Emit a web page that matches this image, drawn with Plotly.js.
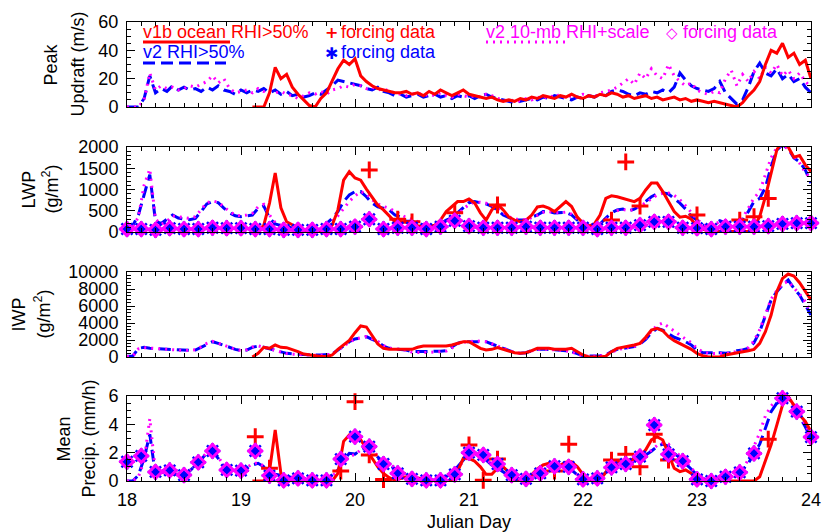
<!DOCTYPE html>
<html><head><meta charset="utf-8">
<script src="https://cdn.plot.ly/plotly-3.0.1.min.js"></script>
<style>html,body{margin:0;padding:0;background:#fff}#chart{width:824px;height:532px}</style>
</head><body><div id="chart"></div>
<script>
// ---------- time grids (Julian Day) ----------
const days = [
18.00,18.05,18.10,18.15,18.20,18.25,18.30,18.35,18.40,18.45,18.50,18.55,18.60,18.65,18.70,18.75,18.80,18.85,18.90,18.95,
19.00,19.05,19.10,19.15,19.20,19.25,19.30,19.35,19.40,19.45,19.50,19.55,19.60,19.65,19.70,19.75,19.80,19.85,19.90,19.95,
20.00,20.05,20.10,20.15,20.20,20.25,20.30,20.35,20.40,20.45,20.50,20.55,20.60,20.65,20.70,20.75,20.80,20.85,20.90,20.95,
21.00,21.05,21.10,21.15,21.20,21.25,21.30,21.35,21.40,21.45,21.50,21.55,21.60,21.65,21.70,21.75,21.80,21.85,21.90,21.95,
22.00,22.05,22.10,22.15,22.20,22.25,22.30,22.35,22.40,22.45,22.50,22.55,22.60,22.65,22.70,22.75,22.80,22.85,22.90,22.95,
23.00,23.05,23.10,23.15,23.20,23.25,23.30,23.35,23.40,23.45,23.50,23.55,23.60,23.65,23.70,23.75,23.80,23.85,23.90,23.95,
24.00];
const forcDays = [
18.000,18.125,18.250,18.375,18.500,18.625,18.750,18.875,
19.000,19.125,19.250,19.375,19.500,19.625,19.750,19.875,
20.000,20.125,20.250,20.375,20.500,20.625,20.750,20.875,
21.000,21.125,21.250,21.375,21.500,21.625,21.750,21.875,
22.000,22.125,22.250,22.375,22.500,22.625,22.750,22.875,
23.000,23.125,23.250,23.375,23.500,23.625,23.750,23.875,
24.000];
const N = null;

// ---------- Peak updraft (m/s) ----------
const updraftV1b = [
N,N,N,N,N,N,N,N,N,N,N,N,N,N,N,N,N,N,N,N,
N,N,0,0,0,10,28,20,23,14,9,5,1,0,6,10,18,27,33,30,
34,22,18,15,13,12,11,10,10,11,9,10,8,11,9,12,10,8,10,12,
9,8,7,6,7,5,4,5,4,6,5,7,6,8,7,6,8,7,9,7,
6,8,7,9,8,10,9,7,8,6,7,8,6,7,5,6,7,5,6,4,
5,4,3,4,3,2,1,0,3,8,12,18,30,40,38,45,35,38,30,33,
20];
const updraftV2 = [
0,0,0,6,22,10,13,11,15,12,14,12,13,11,14,12,15,12,11,9,
12,10,12,11,13,10,12,9,11,8,9,7,8,10,9,12,15,19,18,17,
16,15,13,12,14,11,10,8,9,7,8,9,7,8,9,7,8,6,8,7,
8,6,8,9,7,6,5,4,3,4,5,6,5,7,6,8,7,6,5,7,
6,8,7,9,8,11,12,11,9,8,10,9,11,10,12,10,14,24,19,15,
13,12,11,13,18,10,6,2,5,14,25,31,24,22,27,20,23,18,20,14,
10];
const updraftV2s = [
0,0,0,5,24,12,15,13,14,12,13,15,14,16,18,22,17,20,13,10,
11,12,10,13,11,12,10,11,9,8,6,8,10,9,11,9,12,13,15,14,
16,15,13,14,12,13,11,10,9,8,9,10,8,9,8,10,8,7,9,8,
7,8,7,9,8,6,5,4,5,4,6,5,7,6,8,7,9,6,8,7,
9,8,7,10,11,12,14,17,20,16,24,20,27,22,20,30,22,18,15,17,
12,10,9,11,10,20,26,15,23,18,25,20,28,24,30,22,26,20,24,18,
14];

// ---------- LWP (g/m2) ----------
const lwpV1b = [
N,N,N,N,N,N,N,N,N,N,N,N,N,N,N,N,N,N,N,N,
N,N,0,20,160,680,1390,570,240,160,100,40,20,10,10,30,160,520,1220,1420,
1270,1220,1010,830,630,520,370,240,240,230,200,150,120,130,160,280,480,600,715,715,
775,680,450,280,520,660,520,350,280,240,280,400,590,610,560,480,590,715,600,350,
210,140,190,400,790,850,830,790,750,715,790,990,1150,1150,950,715,480,350,370,300,
125,70,20,10,10,10,10,10,10,20,125,360,830,1390,1930,2150,2000,1760,1800,1580,
1420];
const lwpV2 = [
100,150,400,900,1350,250,200,300,400,330,300,290,320,480,660,715,690,560,450,380,
360,380,400,560,610,330,190,150,125,100,60,40,30,40,80,190,320,480,715,870,
950,950,830,680,590,560,520,400,350,250,250,200,160,150,140,200,280,330,450,590,
690,715,690,660,600,520,400,330,280,280,280,350,400,480,480,450,450,460,400,280,
190,140,125,190,330,450,520,540,495,540,610,715,830,895,925,895,790,680,540,370,
280,160,110,200,265,210,125,160,280,480,715,790,1050,1540,1930,2050,1970,1740,1650,1460,
1150];
const lwpV2s = [
50,120,350,1100,1480,300,180,250,380,360,330,320,360,520,690,730,700,590,480,400,
380,400,440,590,650,400,220,160,120,90,60,40,30,40,70,150,250,380,560,720,
850,950,900,760,660,600,560,480,420,340,300,240,190,160,150,190,260,300,400,540,
650,700,700,680,630,560,450,360,300,290,290,340,390,460,480,460,450,470,420,310,
210,150,130,170,300,420,500,530,500,530,600,690,800,870,910,920,860,760,620,450,
300,180,120,180,240,200,130,180,330,560,800,950,1350,1750,1980,2050,1950,1780,1620,1400,
1250];
const lwpForcV1b = [
N,N,N,N,N,N,N,N,
N,N,N,N,N,N,N,N,
N,1460,N,300,240,N,N,450,
N,N,635,N,N,N,N,N,
N,N,280,1650,610,N,N,N,
400,N,N,280,360,790,N,N,
N];
const lwpForcV2 = [
70,70,50,90,70,70,100,90,
90,70,70,50,50,50,70,70,
125,300,70,100,100,70,125,265,
140,100,100,100,125,100,100,100,
100,70,100,100,160,240,240,100,
90,70,125,125,125,140,190,210,
210];

// ---------- IWP (g/m2) ----------
const iwpV1b = [
N,N,N,N,N,N,N,N,N,N,N,N,N,N,N,N,N,N,N,N,
N,N,0,430,1140,1020,1410,1140,1100,900,630,350,235,100,50,50,235,900,1410,1960,
2860,3650,3530,2510,1530,1020,900,900,900,820,900,1140,1290,1290,1290,1290,1290,1410,1610,1800,
1800,1410,1020,820,900,1100,900,630,510,430,510,745,1020,1020,1020,900,900,900,1020,630,
235,0,0,0,100,630,1020,1140,1220,1410,1610,2320,3170,3370,3080,2390,1920,1610,1290,900,
430,150,0,0,0,235,350,510,630,745,900,1610,2980,4940,7680,9250,9760,9530,8740,7680,
6700];
const iwpV2 = [
100,100,1020,1140,1020,980,940,880,820,780,745,780,820,1150,1530,1800,1610,1350,1140,900,
745,820,1140,1290,1140,980,820,600,430,370,315,270,235,235,235,260,350,820,1290,1800,
2120,2270,2390,2080,1800,1290,1020,950,900,820,630,630,630,630,630,680,745,1140,1610,1800,
1800,1880,1800,1800,1530,1290,1020,745,510,430,510,745,900,940,900,820,820,745,630,350,
150,100,100,150,235,630,900,1020,1140,1220,1530,2080,2860,3370,3170,2710,2320,2080,1800,1410,
820,510,510,550,510,430,510,745,820,1020,1680,2980,4740,6700,7680,8470,9060,8080,7290,6120,
4940];
const iwpV2s = [
50,80,950,1100,1050,1000,950,900,850,800,760,800,860,1200,1600,1850,1650,1400,1150,900,
760,850,1180,1320,1150,950,780,560,400,330,280,230,200,200,210,240,330,780,1250,1750,
2100,2250,2400,2150,1850,1350,1050,960,900,800,560,520,520,550,560,620,700,1050,1550,1750,
1800,1900,1850,1800,1560,1300,1050,760,520,420,500,720,880,930,900,830,800,720,600,330,
130,80,80,130,220,580,860,1000,1150,1250,1600,2200,3050,3700,4000,3500,3000,2500,2100,1700,
1000,600,450,400,420,380,450,680,800,1100,1900,3200,5000,6800,7800,8600,8900,8200,7400,6500,
5300];

// ---------- Mean precipitation (mm/h) ----------
const precV1b = [
N,N,N,N,N,N,N,N,N,N,N,N,N,N,N,N,N,N,N,N,
N,N,0,0,0,0.7,3.6,0.54,0.05,0,0,0,0,0,0,0,0,0.54,2.8,3.25,
3.0,2.9,2.3,1.6,1.0,0.54,0.24,0.05,0.19,0.3,0.24,0.2,0.19,0.1,0,0,0,0.05,0.66,1.6,
1.6,1.4,1.0,0.47,0.47,0.9,1.0,0.61,0.05,0,0.05,0.42,0.85,1.13,1.25,1.13,1.13,1.32,1.36,1.0,
0.47,0.05,0,0.05,0.66,1.2,1.32,1.36,1.48,1.55,1.72,2.2,2.9,3.13,2.9,1.84,0.9,0.66,0.78,0.54,
0.15,0,0,0,0,0,0,0,0,0,0,0.3,1.48,2.55,3.95,5.36,5.95,5.36,4.66,4.2,
3.5];
const precV2 = [
0,0,0.4,1.6,3.3,0.4,0.5,0.55,0.5,0.45,0.42,0.7,1.1,1.5,1.95,2.07,1.6,1.0,0.7,0.7,
0.78,0.9,1.13,1.25,1.0,0.7,0.47,0.38,0.3,0.25,0.19,0.1,0.05,0.05,0.05,0.15,0.42,0.78,1.48,1.95,
1.9,2.2,2.35,2.07,1.72,1.32,1.13,0.9,0.61,0.38,0.24,0.18,0.12,0.08,0.05,0.15,0.3,0.54,1.0,1.48,
1.84,1.95,1.84,1.48,1.13,0.9,0.61,0.38,0.24,0.15,0.19,0.3,0.54,0.78,0.96,1.0,1.0,0.96,0.78,0.42,
0.15,0.05,0.05,0.19,0.61,0.96,1.13,1.2,1.32,1.4,1.55,1.84,2.1,2.45,2.6,2.45,1.95,1.65,1.25,0.78,
0.42,0.19,0.05,0.15,0.19,0.3,0.47,0.66,0.78,1.25,1.95,2.6,3.72,4.9,5.5,5.84,5.95,5.13,4.54,3.83,
3.0];
const precV2s = [
0,0,0.3,1.4,4.4,0.6,0.6,0.6,0.55,0.5,0.5,0.75,1.15,1.6,2.0,2.1,1.7,1.1,0.75,0.7,
0.8,0.95,1.2,1.3,1.05,0.75,0.5,0.4,0.3,0.25,0.2,0.1,0.05,0.05,0.05,0.12,0.35,0.7,1.3,1.8,
1.85,2.2,2.4,2.15,1.8,1.4,1.2,0.95,0.7,0.45,0.3,0.2,0.12,0.08,0.05,0.12,0.25,0.5,0.95,1.4,
1.8,1.95,1.9,1.55,1.2,0.95,0.65,0.4,0.25,0.15,0.18,0.28,0.5,0.75,0.95,1.0,1.05,1.0,0.8,0.45,
0.15,0.05,0.05,0.15,0.55,0.9,1.1,1.2,1.3,1.4,1.55,1.85,2.15,2.5,2.7,2.6,2.1,1.8,1.4,0.9,
0.5,0.2,0.05,0.12,0.18,0.28,0.45,0.65,0.85,1.5,2.4,3.4,4.6,5.3,5.7,5.9,5.95,5.3,4.7,4.0,
3.2];
const precForcV1b = [
N,N,N,N,N,N,N,N,
N,3.13,0.9,N,N,N,N,0.7,
5.6,1.84,0.1,N,N,N,N,N,
2.54,0.05,1.55,N,N,N,0.7,2.6,
N,N,1.48,1.88,1.0,3.3,1.48,N,
N,N,N,N,N,2.95,N,N,
N];
const precForcV2 = [
1.36,1.77,0.64,0.75,0.42,1.32,2.12,0.78,
0.73,2.12,0.38,0.05,0.19,0.05,0.05,1.55,
3.13,2.43,1.2,0.54,0.15,0.05,0.05,0.47,
2.0,1.84,1.2,0.42,0.15,0.54,1.04,1.0,
0.12,0.19,0.96,1.2,1.72,3.95,1.88,1.4,
0.12,0,0.3,0.61,1.95,N,5.84,4.9,
3.1];

// ---------- labels ----------
const seriesNames = ['v1b ocean RHI>50%', 'v2 RHI>50%', 'v2 10-mb RHI+scale'];
const forcingLabel = 'forcing data';
const xTitle = 'Julian Day';
const panelTitles = [['Peak','Updraft (m/s)'],['LWP','(g/m<sup>2</sup>)'],['IWP','(g/m<sup>2</sup>)'],['Mean','Precip. (mm/h)']];

// ---------- styling ----------
const RED = '#ff0000', BLUE = '#0000ff', MAG = '#ff00ff';
const FONT = 'Liberation Sans, Arial, Helvetica, sans-serif';
const W = 824, H = 532;
const px = x => x / W, py = y => 1 - y / H;

function ln(x, y, ax, col, dash) {
  return {x, y, xaxis: 'x' + ax, yaxis: 'y' + ax, type: 'scatter', mode: 'lines',
    line: {color: col, width: 3, dash: dash}, connectgaps: false, hoverinfo: 'skip'};
}
function mk(x, y, ax, col, sym, size, w) {
  return {x, y, xaxis: 'x' + ax, yaxis: 'y' + ax, type: 'scatter', mode: 'markers', cliponaxis: false,
    marker: {symbol: sym, size: size, color: col, line: {color: col, width: w}}, hoverinfo: 'skip'};
}
const DASH = '12px,6px', DOT = '2px,5px';

const traces = [
  ln(days, updraftV2, '', BLUE, DASH), ln(days, updraftV2s, '', MAG, DOT), ln(days, updraftV1b, '', RED, 'solid'),
  ln(days, lwpV2, '2', BLUE, DASH), ln(days, lwpV2s, '2', MAG, DOT), ln(days, lwpV1b, '2', RED, 'solid'),
  mk(forcDays, lwpForcV1b, '2', RED, 'cross-thin-open', 12, 3),
  mk(forcDays, lwpForcV2, '2', BLUE, 'asterisk-open', 13, 2.5),
  mk(forcDays, lwpForcV2, '2', MAG, 'diamond-open', 10, 3),
  ln(days, iwpV2, '3', BLUE, DASH), ln(days, iwpV2s, '3', MAG, DOT), ln(days, iwpV1b, '3', RED, 'solid'),
  ln(days, precV2, '4', BLUE, DASH), ln(days, precV2s, '4', MAG, DOT), ln(days, precV1b, '4', RED, 'solid'),
  mk(forcDays, precForcV1b, '4', RED, 'cross-thin-open', 12, 3),
  mk(forcDays, precForcV2, '4', BLUE, 'asterisk-open', 13, 2.5),
  mk(forcDays, precForcV2, '4', MAG, 'diamond-open', 10, 3)
];

const tickFont = {family: FONT, size: 18, color: '#000'};
function xax(anchor, labels) {
  return {domain: [px(127), px(811)], anchor: anchor, range: [18, 24], dtick: 1, tick0: 18,
    ticks: 'inside', ticklen: 8, tickwidth: 1, tickcolor: '#000',
    minor: {ticks: 'inside', ticklen: 4, dtick: 0.125, tick0: 18, tickcolor: '#000', showgrid: false},
    showline: true, linecolor: '#000', linewidth: 1, mirror: 'ticks',
    showgrid: false, zeroline: false, showticklabels: labels, tickfont: tickFont, ticklabelstandoff: 2};
}
function yax(anchor, top, bot, range, dtick, minor) {
  return {domain: [py(bot), py(top)], anchor: anchor, range: range, dtick: dtick, tick0: 0,
    ticks: 'inside', ticklen: 8, tickwidth: 1, tickcolor: '#000',
    minor: {ticks: 'inside', ticklen: 4, dtick: minor, tick0: 0, tickcolor: '#000', showgrid: false},
    showline: true, linecolor: '#000', linewidth: 1, mirror: 'ticks',
    exponentformat: 'none', separatethousands: false, tickformat: 'd',
    showgrid: false, zeroline: false, tickfont: tickFont, ticklabelstandoff: 4};
}

const layout = {
  width: W, height: H, margin: {l: 0, r: 0, t: 0, b: 0},
  paper_bgcolor: '#fff', plot_bgcolor: 'rgba(0,0,0,0)', showlegend: false, hovermode: false,
  font: {family: FONT, size: 18, color: '#000'},
  xaxis: xax('y', false), yaxis: yax('x', 22, 107, [0, 60], 20, 5),
  xaxis2: xax('y2', false), yaxis2: yax('x2', 147, 232, [0, 2000], 500, 100),
  xaxis3: xax('y3', false), yaxis3: yax('x3', 272, 357, [0, 10000], 2000, 400),
  xaxis4: Object.assign(xax('y4', true), {title: {text: xTitle, font: {family: FONT, size: 18, color: '#000'}, standoff: 6}}),
  yaxis4: yax('x4', 396, 481, [0, 6], 2, 0.5),
  shapes: [
    {type: 'line', xref: 'paper', yref: 'paper', x0: px(143), x1: px(230), y0: py(42), y1: py(42), line: {color: RED, width: 3}},
    {type: 'line', xref: 'paper', yref: 'paper', x0: px(143), x1: px(226), y0: py(63), y1: py(63), line: {color: BLUE, width: 3, dash: DASH}},
    {type: 'line', xref: 'paper', yref: 'paper', x0: px(486), x1: px(570), y0: py(42), y1: py(42), line: {color: MAG, width: 3, dash: DOT}}
  ],
  annotations: []
};

function ann(text, x, y, col, opts) {
  return Object.assign({text: text, xref: 'paper', yref: 'paper', x: px(x), y: py(y), showarrow: false,
    xanchor: 'left', yanchor: 'middle', font: {family: FONT, size: 18, color: col}}, opts || {});
}
layout.annotations.push(
  ann(seriesNames[0], 141, 32, RED),
  ann('<b>+</b>', 323, 32, RED, {font: {family: 'DejaVu Sans', size: 16, color: RED}}),
  ann(forcingLabel, 339, 32, RED),
  ann(seriesNames[1], 141, 52, BLUE),
  ann('<b>✱</b>', 323, 53, BLUE, {font: {family: 'DejaVu Sans', size: 16, color: BLUE}}),
  ann(forcingLabel, 339, 52, BLUE),
  ann(seriesNames[2], 484, 32, MAG),
  ann('<b>◇</b>', 664, 33, MAG, {font: {family: 'DejaVu Sans', size: 15, color: MAG}}),
  ann(forcingLabel, 681, 32, MAG)
);
// y-axis titles (two lines each), rotated
const titlePos = [[51, 78, 64.5], [28, 51, 189.5], [18, 43, 314.5], [63, 88, 438.5]];
panelTitles.forEach((t, i) => {
  const p = titlePos[i];
  layout.annotations.push(ann(t[0], p[0], p[2], '#000', {xanchor: 'center', textangle: -90}));
  layout.annotations.push(ann(t[1], p[1], p[2], '#000', {xanchor: 'center', textangle: -90}));
});

Plotly.newPlot('chart', traces, layout, {staticPlot: true, displayModeBar: false});
</script></body></html>
